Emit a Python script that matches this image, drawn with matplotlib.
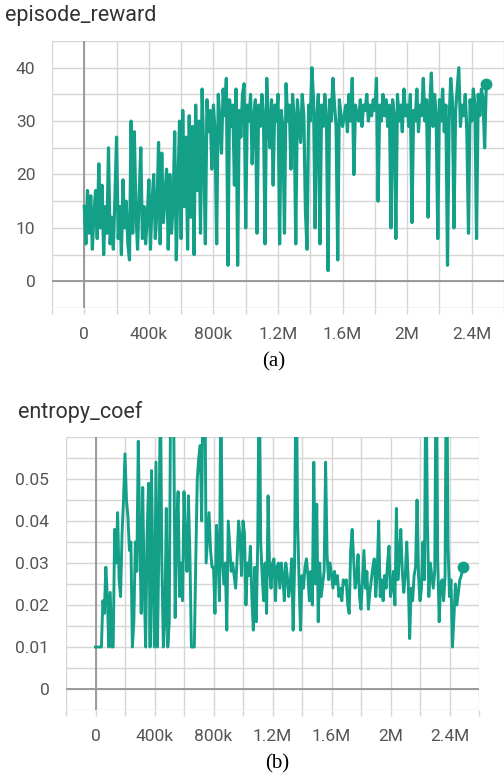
import numpy as np
import matplotlib
matplotlib.use("Agg")
import matplotlib.pyplot as plt
from matplotlib.ticker import FixedLocator, FuncFormatter

plt.rcParams['font.family'] = ['Roboto', 'DejaVu Sans']

STEP = 10000  # logging interval of both runs

# episode_reward, one value per 10k steps (0 .. 2.49M)
reward = [
    14, 7, 17, 9, 16, 6, 13, 17, 8, 22,
    10, 18, 5, 14, 9, 25, 7, 12, 6, 16,
    27, 8, 14, 5, 19, 10, 15, 7, 4, 30,
    9, 28, 13, 6, 16, 25, 8, 14, 7, 12,
    19, 6, 15, 20, 8, 13, 26, 7, 24, 11,
    16, 21, 6, 20, 9, 14, 28, 4, 18, 30,
    8, 32, 14, 27, 6, 31, 12, 29, 5, 33,
    17, 30, 9, 36, 24, 7, 34, 28, 32, 21,
    33, 28, 7, 35, 30, 24, 36, 31, 38, 3,
    34, 29, 33, 18, 36, 3, 32, 27, 35, 37,
    10, 33, 30, 35, 22, 31, 34, 9, 33, 29,
    35, 31, 7, 38, 30, 25, 34, 18, 33, 30,
    35, 7, 32, 29, 9, 37, 30, 33, 21, 35,
    31, 7, 34, 30, 26, 35, 31, 13, 6, 33,
    30, 40, 34, 10, 31, 35, 7, 33, 29, 35,
    31, 2, 34, 30, 38, 33, 29, 4, 34, 31,
    29, 31, 33, 28, 35, 30, 38, 20, 33, 31,
    30, 34, 29, 33, 32, 35, 30, 33, 31, 34,
    32, 38, 15, 33, 30, 35, 31, 34, 29, 33,
    10, 34, 31, 8, 35, 30, 33, 28, 36, 31,
    33, 29, 35, 11, 32, 30, 36, 28, 33, 31,
    38, 30, 34, 12, 33, 39, 29, 35, 31, 8,
    34, 30, 36, 28, 33, 3, 30, 38, 34, 10,
    32, 36, 40, 29, 33, 31, 35, 28, 9, 34,
    30, 36, 33, 8, 35, 31, 36, 34, 25, 37,
]

# entropy_coef, one value per 10k steps (0 .. 2.49M)
entropy = [
    0.010, 0.010, 0.010, 0.010, 0.010, 0.021, 0.018, 0.029, 0.022, 0.010,
    0.023, 0.010, 0.010, 0.038, 0.030, 0.042, 0.026, 0.022, 0.037, 0.045,
    0.056, 0.045, 0.041, 0.033, 0.035, 0.010, 0.016, 0.035, 0.028, 0.059,
    0.036, 0.018, 0.048, 0.025, 0.010, 0.037, 0.049, 0.010, 0.052, 0.025,
    0.010, 0.054, 0.010, 0.035, 0.072, 0.030, 0.010, 0.016, 0.043, 0.010,
    0.016, 0.075, 0.080, 0.066, 0.017, 0.038, 0.047, 0.022, 0.030, 0.021,
    0.047, 0.034, 0.028, 0.046, 0.032, 0.010, 0.010, 0.010, 0.031, 0.050,
    0.055, 0.058, 0.040, 0.080, 0.085, 0.030, 0.036, 0.042, 0.033, 0.029,
    0.029, 0.018, 0.039, 0.033, 0.021, 0.075, 0.030, 0.025, 0.030, 0.014,
    0.040, 0.034, 0.028, 0.030, 0.027, 0.024, 0.031, 0.040, 0.036, 0.027,
    0.040, 0.037, 0.020, 0.030, 0.027, 0.034, 0.022, 0.014, 0.029, 0.016,
    0.035, 0.080, 0.035, 0.027, 0.021, 0.030, 0.018, 0.046, 0.029, 0.024,
    0.030, 0.031, 0.021, 0.029, 0.030, 0.024, 0.030, 0.027, 0.021, 0.030,
    0.027, 0.022, 0.025, 0.031, 0.014, 0.030, 0.085, 0.040, 0.026, 0.014,
    0.027, 0.024, 0.029, 0.031, 0.027, 0.021, 0.028, 0.020, 0.054, 0.025,
    0.044, 0.016, 0.030, 0.022, 0.025, 0.028, 0.054, 0.032, 0.026, 0.030,
    0.027, 0.024, 0.028, 0.025, 0.027, 0.022, 0.024, 0.021, 0.026, 0.025,
    0.026, 0.020, 0.018, 0.033, 0.038, 0.031, 0.024, 0.026, 0.032, 0.022,
    0.019, 0.026, 0.033, 0.024, 0.028, 0.019, 0.023, 0.026, 0.029, 0.031,
    0.022, 0.028, 0.040, 0.022, 0.026, 0.021, 0.027, 0.024, 0.030, 0.034,
    0.022, 0.024, 0.028, 0.020, 0.043, 0.026, 0.031, 0.038, 0.028, 0.023,
    0.027, 0.035, 0.026, 0.012, 0.024, 0.021, 0.027, 0.029, 0.045, 0.027,
    0.021, 0.024, 0.035, 0.026, 0.080, 0.040, 0.022, 0.030, 0.027, 0.024,
    0.028, 0.085, 0.031, 0.016, 0.025, 0.026, 0.021, 0.027, 0.090, 0.034,
    0.022, 0.026, 0.010, 0.017, 0.025, 0.020, 0.023, 0.026, 0.027, 0.029,
]

x_ticks = np.arange(-200000, 2600001, 200000)
LINE = '#14a088'
GRID = '#d6d6d6'
ZERO = '#9a9a9a'
TXT = '#555555'


def step_label(v, pos=None):
    if v < 0 or v % 400000:
        return ''
    if v == 0:
        return '0'
    if v >= 1e6:
        return f'{v / 1e6:g}M'
    return f'{v / 1e3:g}k'


def style(ax, yticks, ylabels, ylim):
    ax.set_xlim(-200000, 2600000)
    ax.set_ylim(*ylim)
    for s in ax.spines.values():
        s.set_visible(False)
    ax.xaxis.set_major_locator(FixedLocator(x_ticks))
    ax.xaxis.set_major_formatter(FuncFormatter(step_label))
    ax.set_yticks(yticks)
    ax.set_yticklabels(ylabels)
    ax.grid(True, color=GRID, linewidth=1.0, zorder=0)
    ax.axhline(0, color=ZERO, linewidth=1.4, zorder=1)
    ax.axvline(0, color=ZERO, linewidth=1.4, zorder=1)
    ax.tick_params(axis='x', length=4, width=1, color=GRID, pad=10,
                   labelsize=12.5, labelcolor=TXT)
    ax.tick_params(axis='y', length=0, pad=12, labelsize=12.5, labelcolor=TXT)
    ax.set_axisbelow(True)


fig = plt.figure(figsize=(5.04, 7.8), dpi=100)

# (a) episode_reward
ax1 = fig.add_axes([52 / 504, 1 - 308 / 780, 452 / 504, 267 / 780])
xa = np.arange(len(reward)) * STEP
ax1.plot(xa, reward, color=LINE, linewidth=2.3, zorder=3)
ax1.plot(xa[-1], reward[-1], 'o', color=LINE, markersize=7.5, zorder=4)
yt1 = np.arange(-5, 46, 5)
style(ax1, yt1, [str(v) if v % 10 == 0 and 0 <= v <= 40 else '' for v in yt1], (-5, 45))

# (b) entropy_coef
ax2 = fig.add_axes([66 / 504, 1 - 710 / 780, 413 / 504, 273 / 780])
xb = np.arange(len(entropy)) * STEP
ax2.plot(xb, entropy, color=LINE, linewidth=2.1, zorder=3)
ax2.plot(xb[-1], entropy[-1], 'o', color=LINE, markersize=7.5, zorder=4)
yt2 = np.round(np.arange(-0.005, 0.0601, 0.005), 3)
yl2 = []
for v in yt2:
    k = int(round(v * 1000))
    yl2.append(('0' if k == 0 else f'{v:.2f}') if 0 <= k <= 50 and k % 10 == 0 else '')
style(ax2, yt2, yl2, (-0.005, 0.06))

fig.text(5 / 504, 1 - 15 / 780, 'episode_reward', fontsize=15.5, color='#333333',
         ha='left', va='center')
fig.text(18 / 504, 1 - 412 / 780, 'entropy_coef', fontsize=15.5, color='#333333',
         ha='left', va='center')
fig.text(274 / 504, 1 - 362 / 780, '(a)', family='Liberation Serif', fontsize=15,
         ha='center', va='center')
fig.text(277 / 504, 1 - 764 / 780, '(b)', family='Liberation Serif', fontsize=15,
         ha='center', va='center')

fig.savefig('out.png', dpi=100)
